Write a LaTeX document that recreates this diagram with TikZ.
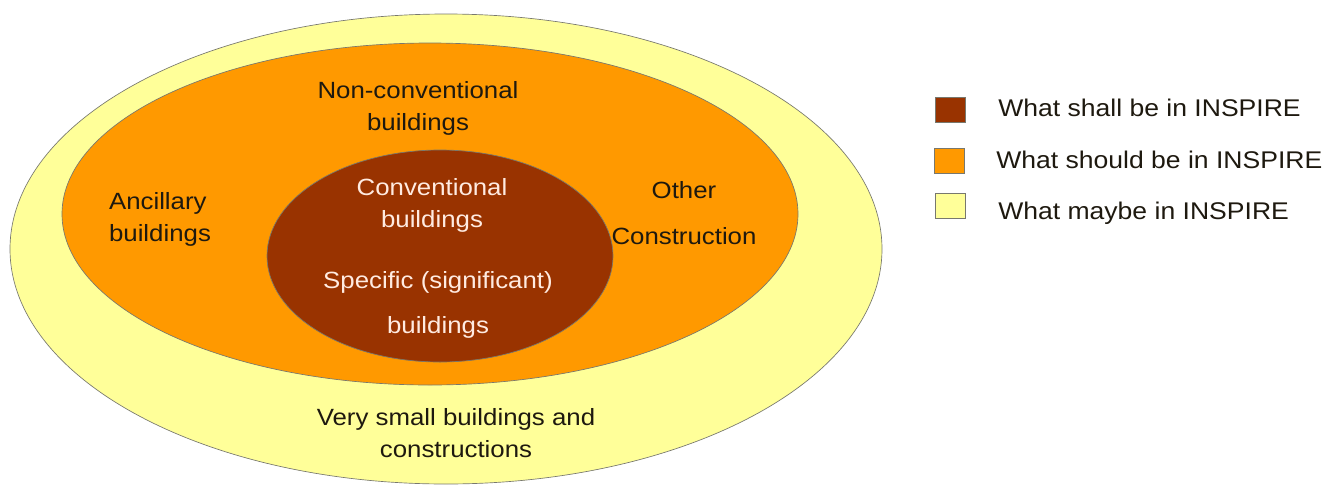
\documentclass[tikz,border=0pt]{standalone}
\usepackage{fontspec}
\setmainfont[FakeStretch=1.1]{Liberation Sans}
\usetikzlibrary{positioning,shapes.geometric}
\definecolor{inBrown}  {RGB}{153, 51,  0}
\definecolor{inOrange} {RGB}{255,153,  0}
\definecolor{inYellow} {RGB}{255,255,153}
\definecolor{inEdge}   {RGB}{120,120,110}
\definecolor{inText}   {RGB}{ 30, 25, 15}
\definecolor{inLight}  {RGB}{255,235,225}

\begin{document}
\begin{tikzpicture}[
  x=0.75pt,y=-0.75pt,
  every node/.style={font=\fontsize{17.6}{24}\selectfont,text=inText},
  zone/.style={ellipse,draw=inEdge,line width=0.5pt,inner sep=0pt},
  lbl/.style ={align=center,inner sep=1pt},
  key/.style ={draw=inEdge,line width=0.5pt,minimum width=22.5pt,
               minimum height=18.75pt,inner sep=0pt},
  keytxt/.style={anchor=west,inner sep=0pt,font=\fontsize{18.1}{24}\selectfont}
]
\useasboundingbox (0,0) rectangle (1322,490);
% nested zones
\node[zone,fill=inYellow,minimum width=654pt,minimum height=352.5pt] (may)    at (446,249) {};
\node[zone,fill=inOrange,minimum width=552pt,minimum height=256.5pt] (should) at (430,214) {};
\node[zone,fill=inBrown, minimum width=259.5pt,minimum height=159pt] (shall)  at (440,256) {};

% labels
\node[lbl] (noncon) at (418,108) {Non-conventional\\buildings};
\node[lbl,align=left] (ancil) at (160,219) {Ancillary\\buildings};
\node[lbl] (other)  at (684,213) {Other\\[11pt]Construction};
\node[lbl,text=inLight] (conv) at (432,205) {Conventional\\buildings};
\node[lbl,text=inLight] (spec) at (438,305) {Specific (significant)\\[10pt]buildings};
\node[lbl] (small)  at (456,433) {Very small buildings and\\constructions};

% legend
\node[key,fill=inBrown]  (k1) at (950,110) {};
\node[key,fill=inOrange] (k2) at (949,161) {};
\node[key,fill=inYellow] (k3) at (950,206) {};
\node[keytxt] (t1) at (998,108) {What shall be in INSPIRE};
\node[keytxt] (t2) at (996,160) {What should be in INSPIRE};
\node[keytxt] (t3) at (998,213) {What maybe in INSPIRE};
\end{tikzpicture}
\end{document}
